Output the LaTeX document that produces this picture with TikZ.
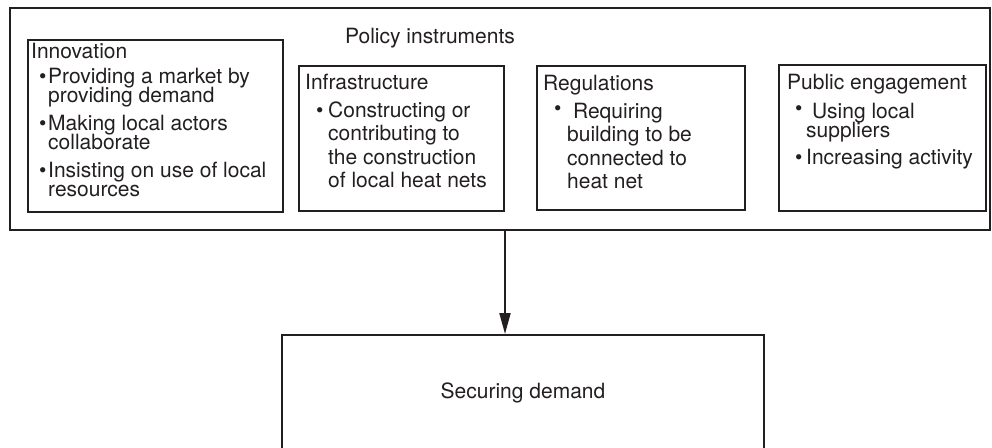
\documentclass[tikz,border=0pt]{standalone}
\usepackage{fontspec}
\setmainfont{TeX Gyre Heros}
\usetikzlibrary{arrows.meta}
\definecolor{ink}{HTML}{231F20}
\setlength{\lineskiplimit}{-20pt}
\newcommand{\bulx}{8pt}
\newcommand{\txtx}{16pt}
\newcommand{\bitem}[1][0pt]{\hspace*{\bulx}\makebox[\dimexpr\txtx-\bulx\relax][l]{\raisebox{#1}{\textbullet}}}
\newcommand{\bcont}{\hspace*{\txtx}}
\tikzset{
  box/.style={draw=ink, line width=2pt, rectangle, inner sep=0pt},
  txt/.style={inner sep=0pt, align=left, text=ink, anchor=north west,
    font={\fontsize{21}{19.5}\selectfont\lineskiplimit=-20pt}},
  loose/.style={font={\fontsize{21}{23.5}\selectfont\lineskiplimit=-20pt}},
  bullets/.code 2 args={\def\bulx{#1}\def\txtx{#2}},
  arr/.style={draw=ink, line width=2pt, -{Triangle[length=21pt,width=11pt]}}
}
\begin{document}
\begin{tikzpicture}[x=1pt,y=-1pt]
  \useasboundingbox (0,0) rectangle (992,447);
  \node (PI) [box, minimum width=980pt, minimum height=222pt] at (500,119) {};
  \node (PT) [anchor=base, text=ink, font=\fontsize{21}{23}\selectfont] at (430,43) {Policy instruments};
  \node (IN) [box, minimum width=255pt, minimum height=172pt] at (155.5,126) {};
  \node (IF) [box, minimum width=205pt, minimum height=145pt] at (401.5,138.5) {};
  \node (RG) [box, minimum width=208pt, minimum height=144pt] at (641,138) {};
  \node (PE) [box, minimum width=207pt, minimum height=146pt] at (882.5,138) {};
  \node (INt) [txt, bullets={8pt}{17pt}] at (31,43) {Innovation\\[5pt]
    \bitem Providing a market by\\ \bcont providing demand\\[8pt]
    \bitem Making local actors\\ \bcont collaborate\\[8pt]
    \bitem Insisting on use of local\\ \bcont resources};
  \node (IFt) [txt, loose, bullets={11pt}{23pt}] at (305,73.7) {Infrastructure\\[4.5pt]
    \bitem Constructing or\\ \bcont contributing to\\ \bcont the construction\\
    \bcont of local heat nets};
  \node (RGt) [txt, loose, bullets={11pt}{24pt}] at (543,74.9) {Regulations\\[4.5pt]
    \bitem[3pt] Requiring\\ \bcont building to be\\ \bcont connected to\\ \bcont heat net};
  \node (PEt) [txt, bullets={8pt}{19pt}] at (787,73.9) {Public engagement\\[9.5pt]
    \bitem[3pt] Using local\\ \bcont suppliers\\[7.5pt]
    \bitem Increasing activity};
  \node (SD) [box, minimum width=482pt, minimum height=116pt, text=ink,
    font=\fontsize{21}{23}\selectfont] at (523,393) {Securing demand};
  \coordinate (drop) at (505,280);
  \draw [arr] (drop |- PI.south) -- (drop |- SD.north);
\end{tikzpicture}
\end{document}
